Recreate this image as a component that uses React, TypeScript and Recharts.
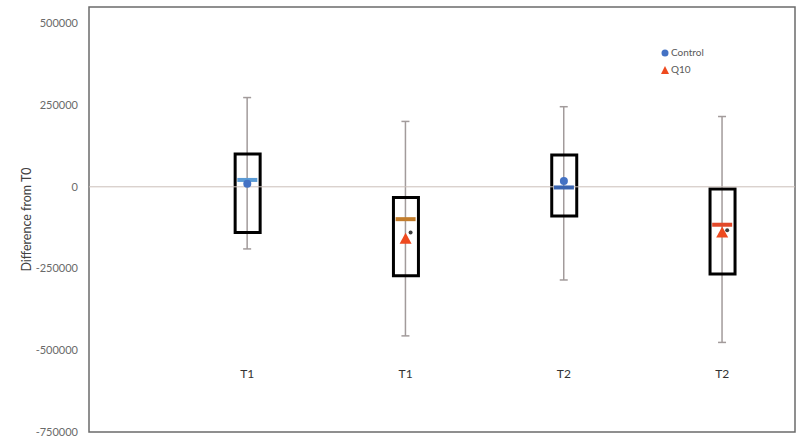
import React from 'react';
import {
    ComposedChart, Bar, Scatter, XAxis, YAxis, ReferenceLine, ReferenceArea, ReferenceDot, Legend, Cell
} from 'recharts';

// box positions and group labels
const xPos = [1, 2, 3, 4];
const groups = ['T1', 'T1', 'T2', 'T2'];

// box plot values
const whiskerLow = [-190000, -456000, -285000, -476000];
const whiskerHigh = [273000, 200000, 245000, 215000];
const boxLow = [-140000, -272000, -89000, -267000];
const boxHigh = [100000, -33000, 97000, -7000];
const dashVals = [21000, -99000, -2000, -116000];
const controlMean = [9000, null, 18000, null];
const q10Mean = [null, -159000, null, -140000];
const dotVals = [null, -140000, null, -133000];

const yTicks = [-750000, -500000, -250000, 0, 250000, 500000];
const LABEL_Y = -572000;

const DASH_COLORS = ['#5b9bd5', '#c27d2c', '#3a64b0', '#e2492a'];
const BLUE = '#4472c4';
const RED = '#ee4a1f';
const FONT = 'Lato, "Open Sans", sans-serif';

const rows = xPos.map((x, i) => ({
    x,
    group: groups[i],
    wLow: whiskerLow[i],
    wHigh: whiskerHigh[i],
    bLow: boxLow[i],
    bHigh: boxHigh[i],
    dash: dashVals[i],
    control: controlMean[i],
    q10: q10Mean[i],
    dot: dotVals[i],
}));

const controlData = rows.filter(r => r.control !== null);
const q10Data = rows.filter(r => r.q10 !== null);
const dotData = rows.filter(r => r.dot !== null);

const Whisker = (props: any) => {
    const { x, y, width, height } = props;
    const cx = x + width / 2;
    const top = Math.min(y, y + height);
    const bottom = Math.max(y, y + height);
    return (
        <g stroke="#a29b9b" strokeWidth={1.5}>
            <line x1={cx} y1={top} x2={cx} y2={bottom} />
            <line x1={cx - 4} y1={top} x2={cx + 4} y2={top} />
            <line x1={cx - 4} y1={bottom} x2={cx + 4} y2={bottom} />
        </g>
    );
};

const Dash = (props: any) => {
    const { cx, cy, fill } = props;
    return <rect x={cx - 10} y={cy - 2} width={20} height={4} fill={fill} />;
};

const Triangle = (props: any) => {
    const { cx, cy } = props;
    return <polygon points={`${cx},${cy - 6} ${cx + 6},${cy + 5} ${cx - 6},${cy + 5}`} fill={RED} />;
};

const Circle = (props: any) => {
    const { cx, cy } = props;
    return <circle cx={cx} cy={cy} r={4} fill={BLUE} />;
};

const SmallDot = (props: any) => {
    const { cx, cy } = props;
    return <circle cx={cx + 5} cy={cy} r={2} fill="#3d3d3d" />;
};

const LegendContent = () => (
    <div style={{ fontFamily: FONT, fontSize: 10, color: '#595959', lineHeight: '17px' }}>
        <div style={{ display: 'flex', alignItems: 'center' }}>
            <svg width={10} height={10}><circle cx={5} cy={5} r={3.5} fill={BLUE} /></svg>
            <span style={{ marginLeft: 1 }}>Control</span>
        </div>
        <div style={{ display: 'flex', alignItems: 'center' }}>
            <svg width={10} height={10}><polygon points="5,1 9,9 1,9" fill={RED} /></svg>
            <span style={{ marginLeft: 1 }}>Q10</span>
        </div>
    </div>
);

export default function App() {
    return (
        <div style={{ position: 'absolute', left: 0, top: 0, background: '#fff' }}>
            <ComposedChart width={800} height={439} data={rows} margin={{ top: 7, right: 5, bottom: 7, left: 0 }}>
                <XAxis xAxisId="box" type="number" dataKey="x" domain={[0, 4.46]} allowDataOverflow hide />
                <XAxis xAxisId="wh" type="number" dataKey="x" domain={[0, 4.46]} allowDataOverflow hide />
                <YAxis
                    type="number"
                    domain={[-750000, 550000]}
                    ticks={yTicks}
                    width={89}
                    axisLine={false}
                    tickLine={false}
                    tickMargin={5}
                    interval={0}
                    tick={{ fontSize: 11, fill: '#6a6a6a', fontFamily: FONT }}
                    label={{
                        value: 'Difference from T0', angle: -90, position: 'insideLeft', offset: 27,
                        style: { textAnchor: 'middle', fontSize: 12.5, fill: '#404040', fontFamily: FONT }
                    }}
                />
                <ReferenceArea xAxisId="box" x1={0} x2={4.46} y1={-750000} y2={550000}
                    fill="none" stroke="#6b6b6b" strokeWidth={1.5} ifOverflow="visible" />
                <ReferenceLine xAxisId="box" y={0} stroke="#cbbfb9" strokeWidth={1} />
                <Bar xAxisId="wh" dataKey={(d: any) => [d.wLow, d.wHigh]} barSize={10}
                    shape={<Whisker />} isAnimationActive={false} legendType="none" />
                <Bar xAxisId="box" dataKey={(d: any) => [d.bLow, d.bHigh]} barSize={25}
                    fill="none" stroke="#000" strokeWidth={3} isAnimationActive={false} legendType="none" />
                <Scatter xAxisId="box" data={rows} dataKey="dash" shape={<Dash />} isAnimationActive={false} legendType="none">
                    {rows.map((r, i) => <Cell key={i} fill={DASH_COLORS[i]} />)}
                </Scatter>
                <Scatter xAxisId="box" name="Control" data={controlData} dataKey="control" shape={<Circle />} fill={BLUE} isAnimationActive={false} />
                <Scatter xAxisId="box" name="Q10" data={q10Data} dataKey="q10" shape={<Triangle />} fill={RED} isAnimationActive={false} />
                <Scatter xAxisId="box" data={dotData} dataKey="dot" shape={<SmallDot />} isAnimationActive={false} legendType="none" />
                {rows.map((r, i) => (
                    <ReferenceDot key={i} xAxisId="box" x={r.x} y={LABEL_Y} r={0} stroke="none"
                        label={{ value: r.group, position: 'center', fontSize: 12, fill: '#333333', fontFamily: FONT }} />
                ))}
                <Legend layout="vertical" align="center" verticalAlign="middle" content={<LegendContent />}
                    wrapperStyle={{ position: 'absolute', left: 660, top: 44, width: 'auto' }} />
            </ComposedChart>
        </div>
    );
}
